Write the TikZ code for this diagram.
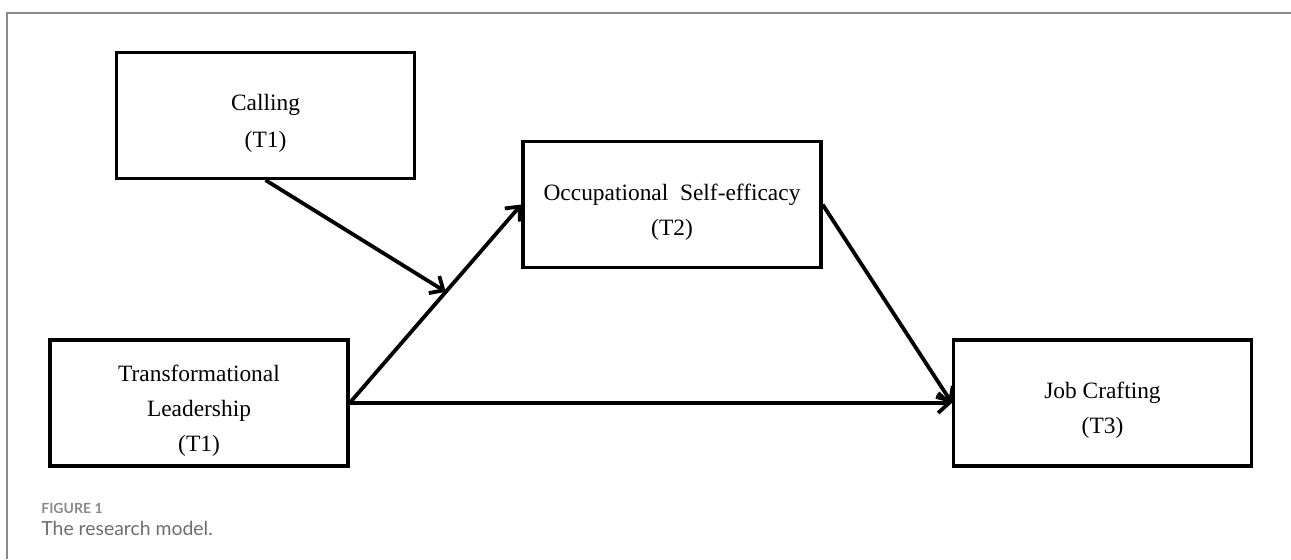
\documentclass[tikz,border=0pt]{standalone}
\usepackage{fontspec}
\setmainfont{Liberation Serif}
\newfontfamily\capfont{Lato}
\usetikzlibrary{arrows.meta,calc,shadows}
\definecolor{framegray}{HTML}{8A8A8A}
\definecolor{capgray}{HTML}{6E6E6E}
% text set a little below the middle of its box
\newcommand{\boxtext}[1]{\raisebox{-3pt}[\height][\depth]{\begin{tabular}{@{}c@{}}#1\end{tabular}}}

\begin{document}
\begin{tikzpicture}[x=0.5pt, y=-0.5pt,
        box/.style = {rectangle, draw=black, line width=1.6pt, fill=white, inner sep=0pt, minimum width=149pt, minimum height=63pt, font=\fontsize{11.7}{17.5}\selectfont, drop shadow={shadow xshift=0.8pt, shadow yshift=-0.8pt, opacity=0.25}},
        arr/.style = {-{Straight Barb[length=5.5pt, width=10pt]}, line width=1.9pt, draw=black},
        frame/.style = {draw=framegray, line width=0.75pt},
        caption/.style = {anchor=base west, inner sep=0pt, text=capgray}
    ]
        \useasboundingbox (0,0) rectangle (1291,559);

        % Page frame
        \coordinate (ftop) at (1291,13);
        \coordinate (fcorner) at (7,13);
        \coordinate (fbottom) at (7,559);
        \draw[frame] (ftop) -- (fcorner) -- (fbottom);

        % Boxes
        \node[box] (cal) at (265.5,115.5) {\boxtext{Calling\\[1pt](T1)}};
        \node[box] (ose) at (672,204.5) {\boxtext{Occupational~ Self-efficacy\\(T2)}};
        \node[box] (tl) at (199,403) {\boxtext{Transformational\\Leadership\\(T1)}};
        \node[box] (jc) at (1102.5,403) {\boxtext{Job Crafting\\(T3)}};

        % Paths
        \coordinate (hit) at ($(tl.east)!0.56!(ose.west)$);
        \draw[arr] (cal.south) -- (hit);
        \draw[arr] (tl.east) -- (ose.west);
        \draw[arr] (tl.east) -- (jc.west);
        \draw[arr] (ose.east) -- (jc.west);

        % Caption
        \node[caption, font=\capfont\bfseries\fontsize{7}{8}\selectfont, text=framegray] (fignum) at (41,513) {FIGURE 1};
        \node[caption, font=\capfont\fontsize{9.7}{11}\selectfont] (figtext) at (41,535) {The research model.};
    \end{tikzpicture}
\end{document}
